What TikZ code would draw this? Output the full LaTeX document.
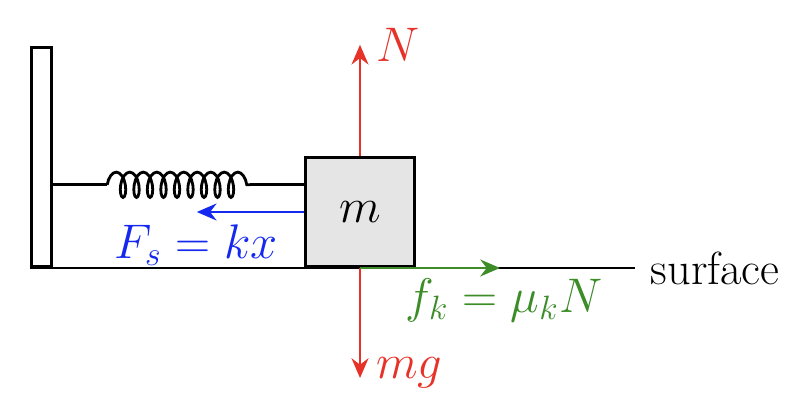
\documentclass[tikz,border=0pt]{standalone}
\usetikzlibrary{arrows.meta,decorations.pathmorphing}
\definecolor{forcered}{RGB}{230,50,40}
\definecolor{forceblue}{RGB}{20,40,240}
\definecolor{forcegreen}{RGB}{60,140,40}
\tikzset{force/.style={line width=1pt,-{Stealth[length=7pt,width=6pt]}},
  spring/.style={line width=1pt,decorate,decoration={coil,aspect=0.45,segment length=4.8pt,amplitude=4.5pt}}}

\begin{document}
\begin{tikzpicture}[font=\fontsize{16.5}{20}\selectfont,line width=1pt]
		\useasboundingbox (0,0) rectangle (10.05,5.2);
		%Wall and block
		\node[draw,minimum width=0.25cm,minimum height=2.74cm,inner sep=0,anchor=south west] (wall) at (0.375,1.85) {};
		\node[draw,fill=gray!20,minimum width=1.36cm,minimum height=1.36cm,inner sep=0,anchor=south] (block) at (4.5,1.85) {$m$};
		
		%Points
		\coordinate (g_end) at (7.94,1.85);
		\coordinate (sp_a) at (1.34,2.89);
		\coordinate (sp_b) at (3.125,2.89);
		\coordinate (n_tip) at (4.5,4.64);
		\coordinate (mg_tip) at (4.5,0.475);
		\coordinate (fk_tip) at (6.25,1.85);
		\coordinate (fs_tip) at (2.46,2.55);
		
		%Surface and spring
		\draw (wall.south west) -- (g_end) node[right,inner sep=0pt,xshift=5pt] {surface};
		\draw (wall.east |- sp_a) -- (sp_a);
		\draw[spring] (sp_a) -- (sp_b);
		\draw (sp_b) -- (block.west |- sp_b);
		
		%Forces
		\draw[force,forcered] (block.north) -- (n_tip) node[right,xshift=2pt] {$N$};
		\draw[force,forcered] (block.south) -- (mg_tip) node[right,xshift=2pt,yshift=2pt] {$mg$};
		\draw[force,forcegreen] (block.south) -- (fk_tip);
		\node[forcegreen] (fk_lbl) at (6.3,1.45) {$f_k=\mu_k N$};
		\draw[force,forceblue] (block.west |- fs_tip) -- (fs_tip);
		\node[forceblue] (fs_lbl) at (2.45,2.14) {$F_s=kx$};
	\end{tikzpicture}
\end{document}
